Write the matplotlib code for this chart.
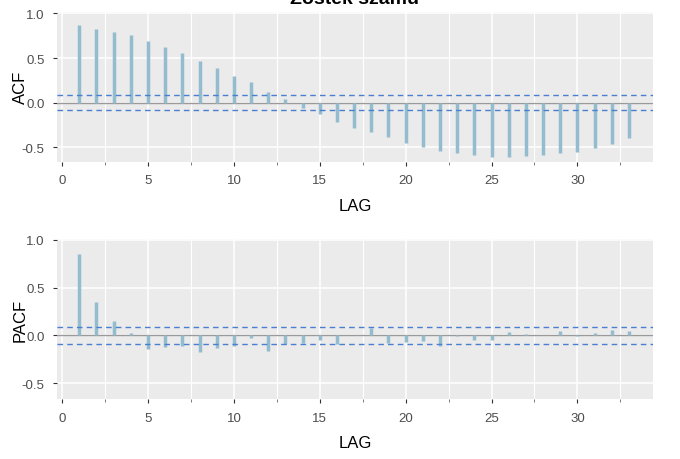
import matplotlib
matplotlib.use('Agg')
import matplotlib.pyplot as plt
import numpy as np

plt.rcParams['font.family'] = ['Liberation Sans', 'DejaVu Sans']

lags = list(range(1, 34))
acf = [0.87, 0.83, 0.79, 0.76, 0.69, 0.62, 0.56, 0.47, 0.39, 0.30,
       0.23, 0.12, 0.045, -0.06, -0.13, -0.22, -0.28, -0.33, -0.39, -0.45,
       -0.50, -0.54, -0.57, -0.59, -0.61, -0.61, -0.60, -0.59, -0.57, -0.55,
       -0.51, -0.46, -0.40]
pacf = [0.855, 0.35, 0.15, 0.03, -0.14, -0.125, -0.11, -0.175, -0.13, -0.11,
        -0.03, -0.16, -0.09, -0.075, -0.045, -0.09, 0.008, 0.08, -0.08, -0.065,
        -0.06, -0.11, -0.01, -0.045, -0.048, 0.035, 0.01, 0.005, 0.045, -0.01,
        0.02, 0.058, 0.045]
conf = 0.088
title = 'Zostek szamu'

bar_col = '#93bccf'
dash_col = '#4a7fd0'


def styl(ax, ylab, ylim):
    ax.set_facecolor('#ebebeb')
    for s in ax.spines.values():
        s.set_visible(False)
    ax.set_xlim(-0.3, 34.4)
    ax.set_ylim(*ylim)
    ax.set_xticks([0, 5, 10, 15, 20, 25, 30])
    ax.set_xticks([2.5, 7.5, 12.5, 17.5, 22.5, 27.5, 32.5], minor=True)
    ax.set_yticks([-0.5, 0.0, 0.5, 1.0])
    ax.set_yticklabels(['-0.5', '0.0', '0.5', '1.0'])
    ax.grid(True, which='major', color='white', linewidth=1.1)
    ax.grid(True, which='minor', axis='x', color='white', linewidth=0.8)
    ax.set_axisbelow(True)
    ax.tick_params(which='major', length=3, width=0.8, color='#333333',
                   labelsize=9.5, labelcolor='#4d4d4d', pad=6)
    ax.tick_params(which='minor', length=2, width=0.6, color='#666666')
    ax.set_xlabel('LAG', fontsize=12, labelpad=8)
    ax.set_ylabel(ylab, fontsize=12, va='center')
    ax.yaxis.set_label_coords(-0.062, 0.5)


fig = plt.figure(figsize=(6.8, 4.6), dpi=100)
ax1 = fig.add_axes([0.0838, 0.6457, 0.8765, 0.3268])
ax2 = fig.add_axes([0.0838, 0.1304, 0.8765, 0.3478])

for ax, vals, lab, yl in [(ax1, acf, 'ACF', (-0.666, 1.02)),
                          (ax2, pacf, 'PACF', (-0.667, 1.01))]:
    styl(ax, lab, yl)
    ax.axhline(0, color='#9a9a9a', linewidth=1.0, zorder=2)
    ax.vlines(lags, 0, vals, color=bar_col, linewidth=2.5, zorder=3)
    ax.axhline(conf, color=dash_col, linewidth=1.0, linestyle=(0, (4, 3)), zorder=4)
    ax.axhline(-conf, color=dash_col, linewidth=1.0, linestyle=(0, (4, 3)), zorder=4)

# tytul jest przyciety u gory, jak w oryginale
fig.text(0.522, 1 - 4 / 460, title, ha='center', va='baseline',
         fontsize=14, fontweight='bold')

fig.savefig('out.png', dpi=100)
